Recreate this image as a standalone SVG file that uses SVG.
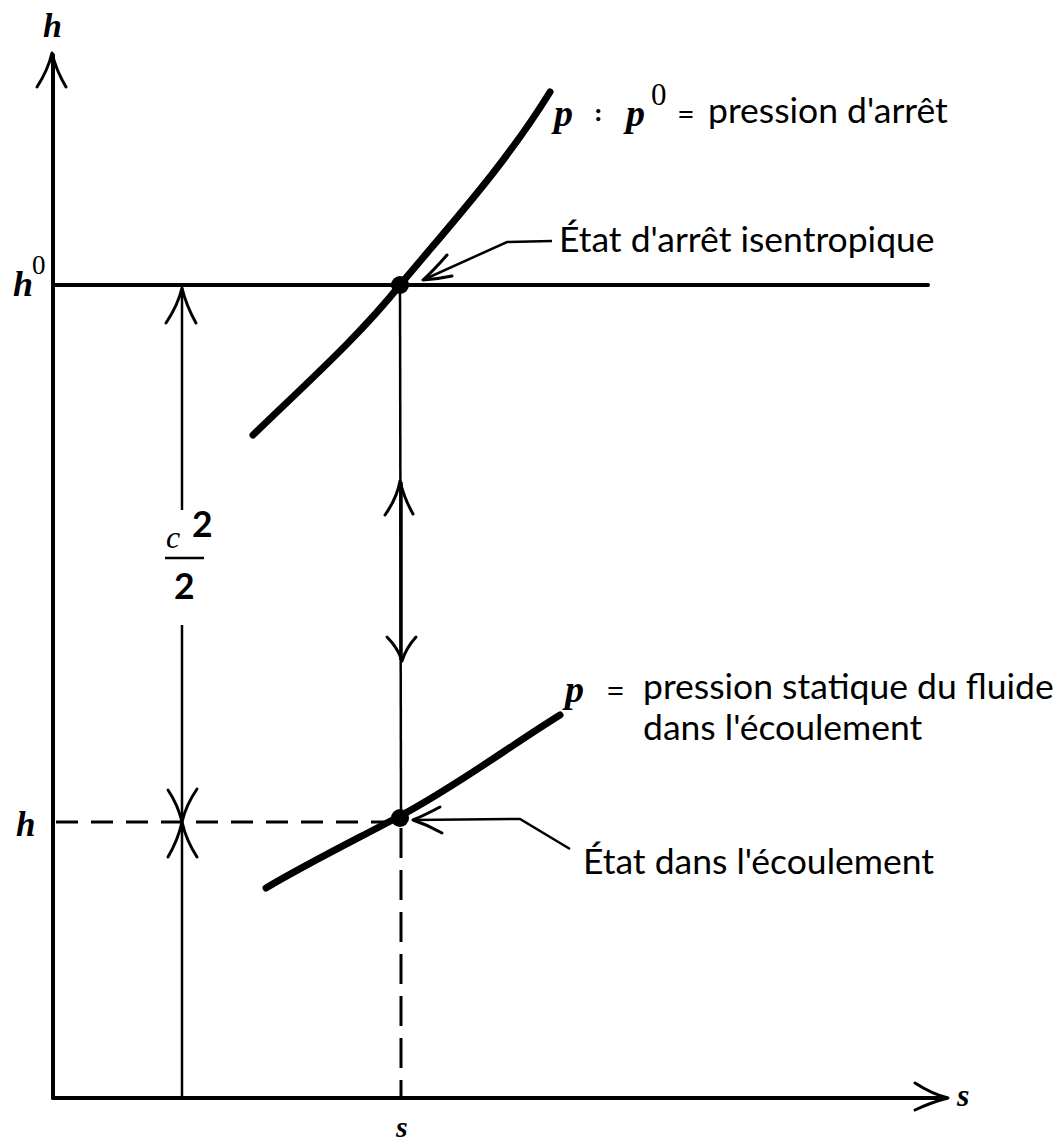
<svg xmlns="http://www.w3.org/2000/svg" width="1057" height="1146" viewBox="0 0 1057 1146">
<style>
.axis{stroke:#000;stroke-width:4;fill:none;stroke-linecap:round}
.curve{stroke:#000;stroke-width:7;fill:none;stroke-linecap:round}
.thin{stroke:#000;stroke-width:2.5;fill:none}
.barb{stroke:#000;stroke-width:3;fill:none;stroke-linecap:round;stroke-linejoin:round}
.dash1{stroke:#000;stroke-width:3;fill:none;stroke-dasharray:22 13}
.dash2{stroke:#000;stroke-width:3;fill:none;stroke-dasharray:30 12}
.math{font-family:"Liberation Serif",serif;font-style:italic;font-weight:bold;fill:#000}
.num{font-family:"Liberation Serif",serif;fill:#000}
.lbl{font-family:Lato,"Open Sans",sans-serif;fill:#000;font-size:35.5px}
</style>
<rect width="1057" height="1146" fill="#fff"/>
<g id="axes">
  <line class="axis" x1="53" y1="1098" x2="53" y2="55"/>
  <path class="barb" d="M37,87 Q48,70 52,53 Q56,70 66,87" stroke-width="3.5"/>
  <line class="axis" x1="53" y1="1098" x2="946" y2="1098"/>
  <path class="barb" d="M915,1083 Q932,1094 948,1098 Q932,1102 915,1110" stroke-width="3.5"/>
  <text class="math" x="43" y="37" font-size="34">h</text>
  <text class="math" x="957" y="1106" font-size="32">s</text>
  <text class="math" x="396" y="1137" font-size="30">s</text>
</g>
<g id="h0-line">
  <line class="axis" x1="53" y1="285" x2="928" y2="285"/>
  <text class="math" x="13" y="296" font-size="36">h</text>
  <text class="num" x="32" y="274" font-size="27">0</text>
</g>
<g id="h-line">
  <line class="dash1" x1="56" y1="822" x2="400" y2="822"/>
  <text class="math" x="16" y="836" font-size="35">h</text>
</g>
<g id="curve-p0">
  <path class="curve" d="M253,435 C310,380 360,335 400,285 C450,225 505,165 550,92"/>
  <circle cx="400" cy="285" r="9"/>
  <text class="math" x="554" y="126" font-size="38">p</text>
  <text class="num" x="594" y="121" font-size="26" font-weight="bold">:</text>
  <text class="math" x="626" y="126" font-size="38">p</text>
  <text class="num" x="651" y="105" font-size="31">0</text>
  <text class="num" x="678" y="124" font-size="28" font-weight="bold">=</text>
  <text class="lbl" x="708" y="123">pression d'arrêt</text>
</g>
<g id="curve-p">
  <path class="curve" d="M266,888 C310,862 355,840 400,816 C455,787 510,746 560,715"/>
  <circle cx="400" cy="818" r="9"/>
  <text class="math" x="565" y="702" font-size="38">p</text>
  <text class="num" x="607" y="701" font-size="30" font-weight="bold">=</text>
  <text class="lbl" x="643" y="699" font-size="35px">pression statique du fluide</text>
  <text class="lbl" x="643" y="740" font-size="35px">dans l'écoulement</text>
</g>
<g id="label-arret">
  <text class="lbl" x="559" y="252">État d'arrêt isentropique</text>
</g>
<g id="label-ecoulement">
  <text class="lbl" x="583" y="874">État dans l'écoulement</text>
</g>
<g id="c2-label">
  <text class="num" x="166" y="548" font-size="32" font-style="italic">c</text>
  <text class="lbl" x="192" y="537" font-size="26" font-weight="bold">2</text>
  <line class="thin" x1="165" y1="558" x2="204" y2="558"/>
  <text class="lbl" x="174" y="599" font-size="32" font-weight="bold">2</text>
</g>
<g id="connectors">
  <line class="thin" x1="182" y1="288" x2="182" y2="510"/>
  <line class="thin" x1="182" y1="625" x2="182" y2="1098"/>
  <path class="barb" d="M166,323 Q178,305 182,288 Q186,305 196,323"/>
  <path class="barb" d="M168,790 Q178,805 182,822 Q186,805 197,789"/>
  <path class="barb" d="M168,857 Q178,840 182,822 Q186,840 197,857"/>
  <line class="thin" x1="400" y1="285" x2="401" y2="818"/>
  <line stroke="#000" stroke-width="3.5" x1="401" y1="482" x2="401" y2="660"/>
  <path class="barb" d="M385,515 Q397,498 400,481 Q404,498 413,514"/>
  <path class="barb" d="M387,637 Q398,648 402,661 Q406,648 416,637"/>
  <line class="dash2" x1="401" y1="828" x2="401" y2="1096"/>
  <polyline class="thin" points="552,241 507,242 423,280"/>
  <path class="barb" d="M447,255 Q434,270 423,280 Q438,279 452,276"/>
  <polyline class="thin" points="570,849 520,819 413,820"/>
  <path class="barb" d="M440,807 Q425,815 413,820 Q428,825 442,833"/>
</g>
</svg>
